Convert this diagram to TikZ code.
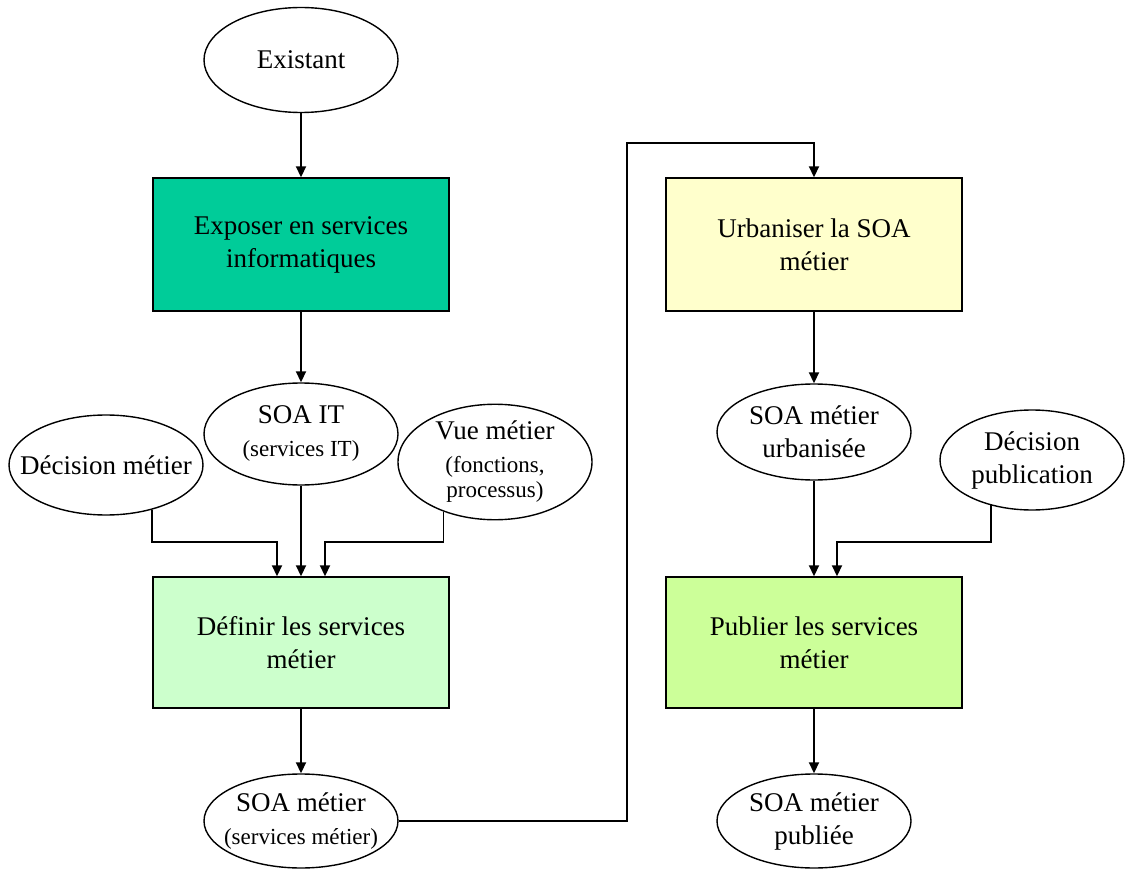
\documentclass[tikz,border=0pt]{standalone}
\usepackage{fontspec}
\setmainfont{Liberation Serif}
\usepackage{xcolor}
\usetikzlibrary{arrows.meta,positioning,shapes.geometric,calc}
\definecolor{itgreen}{RGB}{0,204,153}
\definecolor{defgreen}{RGB}{204,255,204}
\definecolor{urbyellow}{RGB}{255,255,204}
\definecolor{pubgreen}{RGB}{204,255,153}
\newcommand{\petit}[1]{{\fontsize{11.5}{14}\selectfont #1}}

\begin{document}
\begin{tikzpicture}[
  x=0.5pt, y=-0.5pt,
  font=\fontsize{13.5}{16.5}\selectfont,
  box/.style={draw,rectangle,align=center,minimum width=148pt,minimum height=66pt,line width=0.7pt},
  etat/.style={draw,ellipse,align=center,minimum width=97pt,minimum height=50pt,inner xsep=-12pt,inner ysep=0pt,line width=0.7pt},
  arr/.style={-{Triangle[length=5.5pt,width=5pt]},line width=0.9pt}
]
\useasboundingbox (0,0) rectangle (1126,872);

% colonne de gauche
\node[etat, minimum height=52.5pt] (exist) at (301,60) {Existant};
\node[box, fill=itgreen, minimum height=66.5pt] (expo) at (301,244.5) {Exposer en services\\informatiques};
\node[etat, minimum height=51pt] (soait) at (301,434) {SOA IT\\\petit{(services IT)}};
\node[etat] (decm) at (106,465) {Décision métier};
\node[etat, minimum height=53pt] (vue) at (495,462) {Vue métier\\\petit{(fonctions,}\\[-4pt]\petit{processus)}};
\node[box, fill=defgreen, minimum height=65.5pt] (defin) at (301,642.5) {Définir les services\\métier};
\node[etat, minimum height=47pt] (soam) at (301,821) {SOA métier\\\petit{(services métier)}};

% colonne de droite
\node[box, fill=urbyellow, minimum height=66.5pt] (urba) at (814,244.5) {Urbaniser la SOA\\métier};
\node[etat, minimum height=48pt] (soau) at (814,432) {SOA métier\\urbanisée};
\node[etat, minimum width=92pt] (decp) at (1032,460) {Décision\\publication};
\node[box, fill=pubgreen, minimum height=65.5pt] (publ) at (814,642.5) {Publier les services\\métier};
\node[etat, minimum height=47pt] (soap) at (814,821) {SOA métier\\publiée};
\coordinate (pont) at (627,143);

\draw[arr] (exist) -- (expo);
\draw[arr] (expo) -- (soait);
\draw[arr] (soait) -- (defin);
\draw[arr] (decm.-44) |- ([xshift=-12pt,yshift=17pt]defin.north) -- ([xshift=-12pt]defin.north);
\draw[arr] (vue.224) |- ([xshift=12pt,yshift=17pt]defin.north) -- ([xshift=12pt]defin.north);
\draw[arr] (defin) -- (soam);
\draw[arr] (soam.east) -| (pont) -| (urba.north);
\draw[arr] (urba) -- (soau);
\draw[arr] (soau) -- (publ);
\draw[arr] (decp.228) |- ([xshift=11.5pt,yshift=17pt]publ.north) -- ([xshift=11.5pt]publ.north);
\draw[arr] (publ) -- (soap);
\end{tikzpicture}
\end{document}
